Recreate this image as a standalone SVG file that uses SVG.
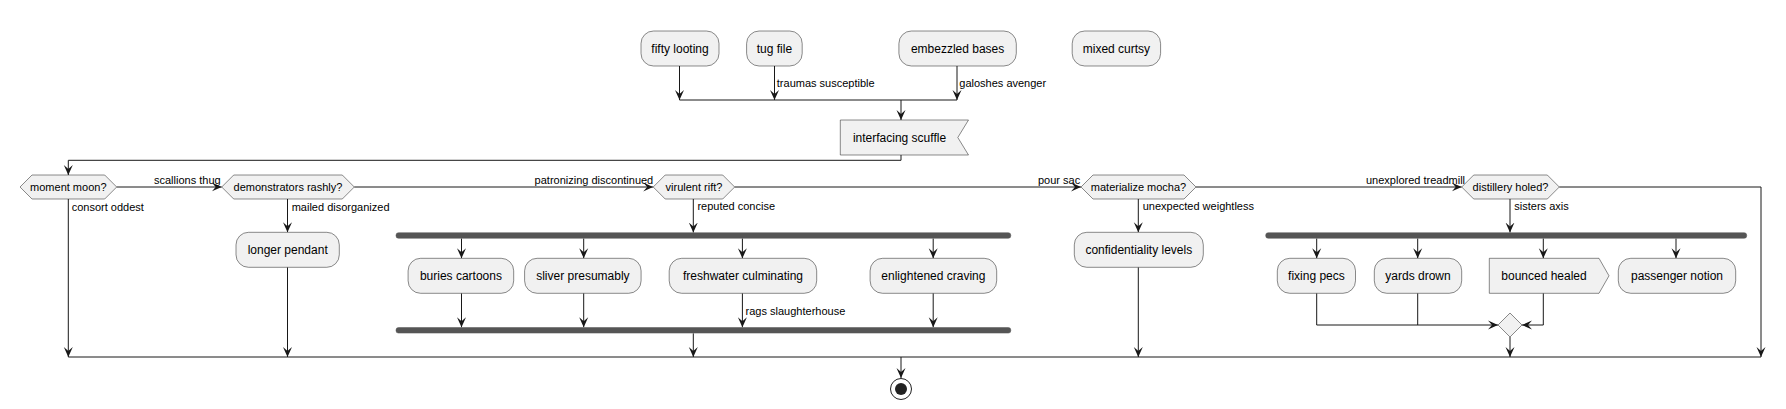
<svg xmlns="http://www.w3.org/2000/svg" width="1786" height="409" viewBox="0 0 1786 409">
<style>
.box{fill:#F1F1F1;stroke:#181818;stroke-width:0.5}
.bar{fill:#555555;stroke:#555555;stroke-width:0.5}
.ln{fill:none;stroke:#181818;stroke-width:1}
.t{font-family:"Liberation Sans",Arial,sans-serif;font-size:12px;fill:#000;text-anchor:middle}
.h{font-family:"Liberation Sans",Arial,sans-serif;font-size:11px;fill:#000;text-anchor:middle}
.l{font-family:"Liberation Sans",Arial,sans-serif;font-size:11px;fill:#000}
</style>
<defs>
<marker id="ar" viewBox="0 0 10 10" refX="10" refY="5" markerWidth="10" markerHeight="10" markerUnits="userSpaceOnUse" orient="auto">
<path d="M0,0.5 L10,5 L0,9.5 L4,5 Z" fill="#181818"/>
</marker>
</defs>
<rect width="1786" height="409" fill="#FFFFFF"/>

<g id="connectors">
<path class="ln" d="M679.5,66 V100" marker-end="url(#ar)"/>
<path class="ln" d="M774.5,66 V100" marker-end="url(#ar)"/>
<path class="ln" d="M957,66 V100" marker-end="url(#ar)"/>
<path class="ln" d="M679.5,100 H957"/>
<path class="ln" d="M901,100 V120" marker-end="url(#ar)"/>
<path class="ln" d="M901,155 V160.3 H68.3 V175" marker-end="url(#ar)"/>
<path class="ln" d="M116.7,187 H221.7" marker-end="url(#ar)"/>
<path class="ln" d="M354.3,187 H653.2" marker-end="url(#ar)"/>
<path class="ln" d="M734.7,187 H1081" marker-end="url(#ar)"/>
<path class="ln" d="M1196,187 H1461.7" marker-end="url(#ar)"/>
<path class="ln" d="M1559.3,187 H1761 V357" marker-end="url(#ar)"/>
<path class="ln" d="M68.3,199 V357" marker-end="url(#ar)"/>
<path class="ln" d="M287.5,199 V232.3" marker-end="url(#ar)"/>
<path class="ln" d="M287.5,267.3 V357" marker-end="url(#ar)"/>
<path class="ln" d="M693.3,199 V232.5" marker-end="url(#ar)"/>
<path class="ln" d="M461.5,238.5 V258.3" marker-end="url(#ar)"/>
<path class="ln" d="M583.7,238.5 V258.3" marker-end="url(#ar)"/>
<path class="ln" d="M742.4,238.5 V258.3" marker-end="url(#ar)"/>
<path class="ln" d="M933.2,238.5 V258.3" marker-end="url(#ar)"/>
<path class="ln" d="M461.5,293.3 V327.3" marker-end="url(#ar)"/>
<path class="ln" d="M583.7,293.3 V327.3" marker-end="url(#ar)"/>
<path class="ln" d="M742.4,293.3 V327.3" marker-end="url(#ar)"/>
<path class="ln" d="M933.2,293.3 V327.3" marker-end="url(#ar)"/>
<path class="ln" d="M693.3,333.3 V357" marker-end="url(#ar)"/>
<path class="ln" d="M1138.3,199 V232.3" marker-end="url(#ar)"/>
<path class="ln" d="M1138.3,267.3 V357" marker-end="url(#ar)"/>
<path class="ln" d="M1510,199 V232.5" marker-end="url(#ar)"/>
<path class="ln" d="M1316.7,238.5 V258.3" marker-end="url(#ar)"/>
<path class="ln" d="M1417.7,238.5 V258.3" marker-end="url(#ar)"/>
<path class="ln" d="M1543.3,238.5 V258.3" marker-end="url(#ar)"/>
<path class="ln" d="M1676,238.5 V258.3" marker-end="url(#ar)"/>
<path class="ln" d="M1316.7,293.3 V325 H1498" marker-end="url(#ar)"/>
<path class="ln" d="M1417.7,293.3 V325"/>
<path class="ln" d="M1543.3,293.3 V325 H1522" marker-end="url(#ar)"/>
<path class="ln" d="M1510,337 V357" marker-end="url(#ar)"/>
<path class="ln" d="M68.3,357 H1761"/>
<path class="ln" d="M901,357 V378" marker-end="url(#ar)"/>
<text class="l" x="776.8" y="87">traumas susceptible</text>
<text class="l" x="959.3" y="87">galoshes avenger</text>
<text class="l" x="154" y="184">scallions thug</text>
<text class="l" x="71.7" y="211">consort oddest</text>
<text class="l" x="291.7" y="211">mailed disorganized</text>
<text class="l" x="534.6" y="184">patronizing discontinued</text>
<text class="l" x="697.4" y="210">reputed concise</text>
<text class="l" x="745.6" y="315">rags slaughterhouse</text>
<text class="l" x="1038" y="184">pour sac</text>
<text class="l" x="1142.7" y="210">unexpected weightless</text>
<text class="l" x="1366" y="184">unexplored treadmill</text>
<text class="l" x="1514.3" y="210">sisters axis</text>
</g>

<g id="fifty_looting"><rect class="box" x="641" y="31" width="78" height="35" rx="12.5"/><text class="t" x="680" y="52.8">fifty looting</text></g>
<g id="tug_file"><rect class="box" x="746.6" y="31" width="55.6" height="35" rx="12.5"/><text class="t" x="774.4" y="52.8">tug file</text></g>
<g id="embezzled_bases"><rect class="box" x="898.9" y="31" width="117.4" height="35" rx="12.5"/><text class="t" x="957.6" y="52.8">embezzled bases</text></g>
<g id="mixed_curtsy"><rect class="box" x="1072.2" y="31" width="88.4" height="35" rx="12.5"/><text class="t" x="1116.4" y="52.8">mixed curtsy</text></g>
<g id="interfacing_scuffle"><polygon class="box" points="840.3,120 968.5,120 957.8,137.5 968.5,155 840.3,155"/><text class="t" x="899.5" y="142">interfacing scuffle</text></g>

<g id="moment_moon"><polygon class="box" points="20,187 32,175 104.7,175 116.7,187 104.7,199 32,199"/><text class="h" x="68.3" y="191">moment moon?</text></g>
<g id="demonstrators_rashly"><polygon class="box" points="221.7,187 233.7,175 342.3,175 354.3,187 342.3,199 233.7,199"/><text class="h" x="288" y="191">demonstrators rashly?</text></g>
<g id="virulent_rift"><polygon class="box" points="653.2,187 665.2,175 722.7,175 734.7,187 722.7,199 665.2,199"/><text class="h" x="694" y="191">virulent rift?</text></g>
<g id="materialize_mocha"><polygon class="box" points="1081,187 1093,175 1184,175 1196,187 1184,199 1093,199"/><text class="h" x="1138.5" y="191">materialize mocha?</text></g>
<g id="distillery_holed"><polygon class="box" points="1461.7,187 1473.7,175 1547.3,175 1559.3,187 1547.3,199 1473.7,199"/><text class="h" x="1510.5" y="191">distillery holed?</text></g>

<g id="longer_pendant"><rect class="box" x="236" y="232.3" width="103.3" height="35" rx="12.5"/><text class="t" x="287.7" y="254.1">longer pendant</text></g>

<g id="fork1"><rect class="bar" x="396" y="232.7" width="614.8" height="5.6" rx="2.5"/></g>
<g id="buries_cartoons"><rect class="box" x="408.1" y="258.3" width="105.6" height="35" rx="12.5"/><text class="t" x="460.9" y="280.1">buries cartoons</text></g>
<g id="sliver_presumably"><rect class="box" x="524.6" y="258.3" width="116.5" height="35" rx="12.5"/><text class="t" x="582.9" y="280.1">sliver presumably</text></g>
<g id="freshwater_culminating"><rect class="box" x="669.2" y="258.3" width="147.5" height="35" rx="12.5"/><text class="t" x="743" y="280.1">freshwater culminating</text></g>
<g id="enlightened_craving"><rect class="box" x="870.1" y="258.3" width="126.6" height="35" rx="12.5"/><text class="t" x="933.4" y="280.1">enlightened craving</text></g>
<g id="join1"><rect class="bar" x="396" y="327.5" width="614.8" height="5.6" rx="2.5"/></g>

<g id="confidentiality_levels"><rect class="box" x="1074.3" y="232.3" width="129" height="35" rx="12.5"/><text class="t" x="1138.8" y="254.1">confidentiality levels</text></g>

<g id="fork2"><rect class="bar" x="1265.7" y="232.7" width="481" height="5.6" rx="2.5"/></g>
<g id="fixing_pecs"><rect class="box" x="1277.3" y="258.3" width="78.2" height="35" rx="12.5"/><text class="t" x="1316.4" y="280.1">fixing pecs</text></g>
<g id="yards_drown"><rect class="box" x="1374.3" y="258.3" width="87.4" height="35" rx="12.5"/><text class="t" x="1418" y="280.1">yards drown</text></g>
<g id="bounced_healed"><polygon class="box" points="1489.3,258.3 1599,258.3 1609,275.8 1599,293.3 1489.3,293.3"/><text class="t" x="1544" y="280.1">bounced healed</text></g>
<g id="passenger_notion"><rect class="box" x="1618.3" y="258.3" width="117.4" height="35" rx="12.5"/><text class="t" x="1677" y="280.1">passenger notion</text></g>
<g id="merge"><polygon class="box" points="1510,313 1522,325 1510,337 1498,325"/></g>

<g id="end"><circle cx="901" cy="389" r="10.5" fill="none" stroke="#222222" stroke-width="1"/><circle cx="901" cy="389" r="6" fill="#222222"/></g>
</svg>
